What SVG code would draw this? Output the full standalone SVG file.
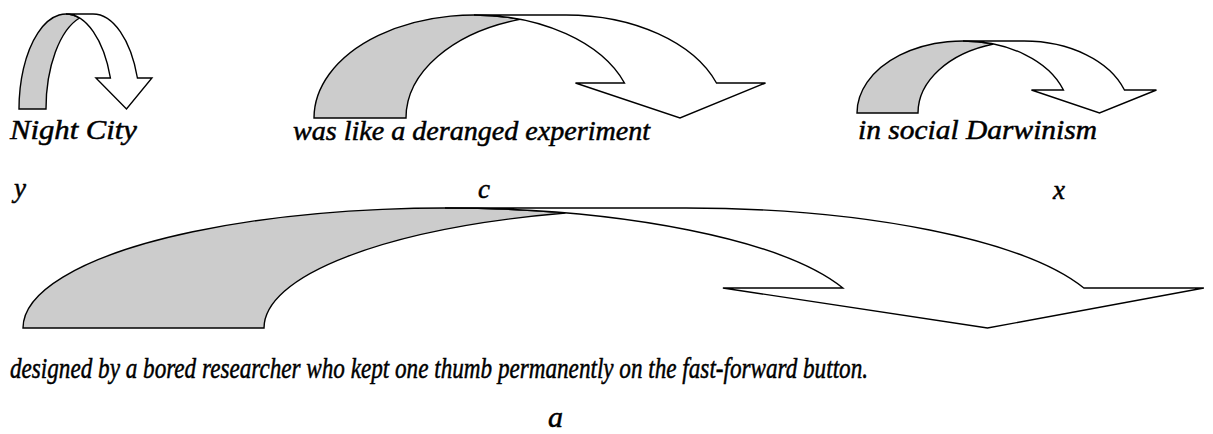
<svg xmlns="http://www.w3.org/2000/svg" width="1213" height="434" viewBox="0 0 1213 434">
<style>
.back{fill:#cccccc;stroke:#000;stroke-width:1.4;stroke-linejoin:miter}
.front{fill:#ffffff;stroke:#000;stroke-width:1.4;stroke-linejoin:miter}
.t{font-family:"Liberation Serif","Times New Roman",serif;font-style:italic;font-size:27px;fill:#000;stroke:#000;stroke-width:0.5}
.big{font-size:30px}
</style>
<rect width="1213" height="434" fill="#fff"/>
<g id="connectors">
  <g id="arrow1">
    <path class="back" d="M19,109 A47,95 0 0 1 79.5,18 A47,95 0 0 0 46,109 Z"/>
    <path class="front" d="M110.43,78 A47,95 0 0 0 66,14 L93,14 A47,95 0 0 1 137.43,78 L151.93,78 L126.5,109 L95.93,78 Z"/>
  </g>
  <g id="arrow2">
    <path class="back" d="M314,118 A160,103 0 0 1 520,19.35 A160,103 0 0 0 406,118 Z"/>
    <path class="front" d="M624.48,83 A160,103 0 0 0 474,15 L566,15 A160,103 0 0 1 716.48,83 L765.48,83 L680,118 L575.48,83 Z"/>
  </g>
  <g id="arrow3">
    <path class="back" d="M857,113 A106,72 0 0 1 993.5,44.04 A106,72 0 0 0 918,113 Z"/>
    <path class="front" d="M1063.45,90 A106,72 0 0 0 963,41 L1024,41 A106,72 0 0 1 1124.45,90 L1156.45,90 L1099.5,113 L1031.45,90 Z"/>
  </g>
  <g id="arrow4">
    <path class="back" d="M23,328 A422,120 0 0 1 565.5,213 A422,120 0 0 0 264,328 Z"/>
    <path class="front" d="M842.87,288 A422,120 0 0 0 445,208 L686,208 A422,120 0 0 1 1083.87,288 L1203.87,288 L987.5,328 L722.87,288 Z"/>
  </g>
</g>
<g id="node-night-city"><text class="t" x="10" y="139" textLength="127" lengthAdjust="spacingAndGlyphs">Night City</text></g>
<g id="node-was-like"><text class="t" x="293" y="140" textLength="357" lengthAdjust="spacingAndGlyphs">was like a deranged experiment</text></g>
<g id="node-in-social"><text class="t" x="858" y="139" textLength="239" lengthAdjust="spacingAndGlyphs">in social Darwinism</text></g>
<g id="label-y"><text class="t" x="14" y="197">y</text></g>
<g id="label-c"><text class="t" x="478" y="198">c</text></g>
<g id="label-x"><text class="t" x="1053" y="199">x</text></g>
<g id="node-designed"><text class="t big" x="10" y="378" textLength="858" lengthAdjust="spacingAndGlyphs">designed by a bored researcher who kept one thumb permanently on the fast-forward button.</text></g>
<g id="label-a"><text class="t big" x="548" y="427">a</text></g>
</svg>
